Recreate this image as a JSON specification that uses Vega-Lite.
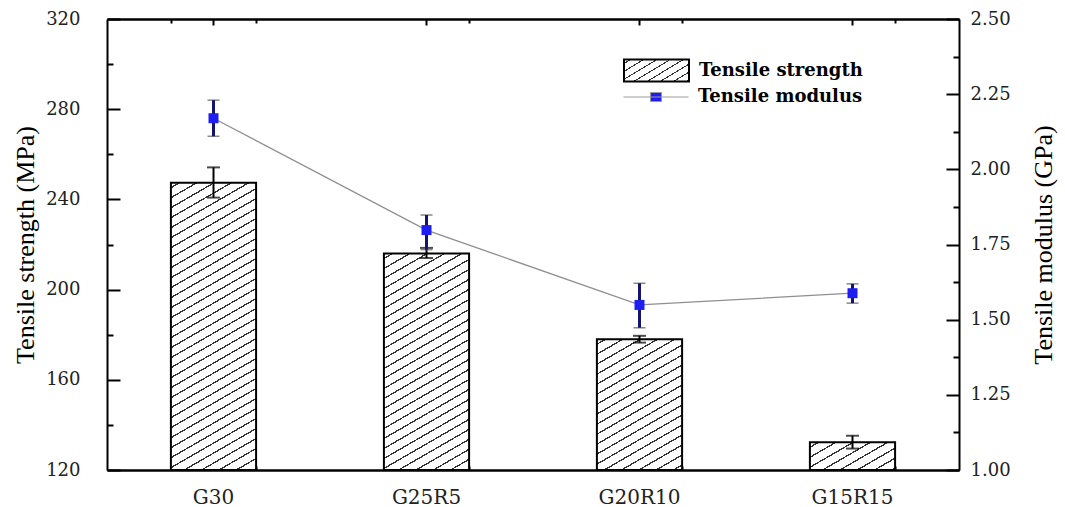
{
  "$schema": "https://vega.github.io/schema/vega-lite/v6.json",
  "width": 852,
  "height": 451,
  "autosize": "none",
  "padding": {"left": 107, "top": 19, "right": 106, "bottom": 37},
  "background": "#ffffff",
  "config": {"view": {"stroke": null}},
  "data": {"values": [
    {"sample": "G30", "ts": 247.4, "tslo": 240.8, "tshi": 254.2, "tm": 2.17, "tmlo": 2.11, "tmhi": 2.23},
    {"sample": "G25R5", "ts": 216, "tslo": 214, "tshi": 218.5, "tm": 1.798, "tmlo": 1.733, "tmhi": 1.848},
    {"sample": "G20R10", "ts": 178, "tslo": 176.5, "tshi": 179.5, "tm": 1.549, "tmlo": 1.473, "tmhi": 1.621},
    {"sample": "G15R15", "ts": 132.3, "tslo": 129.5, "tshi": 135.2, "tm": 1.588, "tmlo": 1.555, "tmhi": 1.619}
  ]},
  "resolve": {"scale": {"y": "independent"}, "axis": {"x": "independent", "y": "independent"}},
  "layer": [
    {
      "transform": [{"filter": "datum.sample === 'G30'"}],
      "mark": {"type": "bar", "stroke": "#000", "strokeWidth": 2, "fill": {"gradient": "linear", "x1": 0, "y1": 0, "x2": 0.2027, "y2": 1.1836, "stops": [
        {"offset":0.0121,"color":"#fff"},{"offset":0.0121,"color":"#333"},{"offset":0.0164,"color":"#333"},{"offset":0.0164,"color":"#fff"},
        {"offset":0.0407,"color":"#fff"},{"offset":0.0407,"color":"#333"},{"offset":0.0450,"color":"#333"},{"offset":0.0450,"color":"#fff"},
        {"offset":0.0693,"color":"#fff"},{"offset":0.0693,"color":"#333"},{"offset":0.0736,"color":"#333"},{"offset":0.0736,"color":"#fff"},
        {"offset":0.0979,"color":"#fff"},{"offset":0.0979,"color":"#333"},{"offset":0.1021,"color":"#333"},{"offset":0.1021,"color":"#fff"},
        {"offset":0.1264,"color":"#fff"},{"offset":0.1264,"color":"#333"},{"offset":0.1307,"color":"#333"},{"offset":0.1307,"color":"#fff"},
        {"offset":0.1550,"color":"#fff"},{"offset":0.1550,"color":"#333"},{"offset":0.1593,"color":"#333"},{"offset":0.1593,"color":"#fff"},
        {"offset":0.1836,"color":"#fff"},{"offset":0.1836,"color":"#333"},{"offset":0.1879,"color":"#333"},{"offset":0.1879,"color":"#fff"},
        {"offset":0.2121,"color":"#fff"},{"offset":0.2121,"color":"#333"},{"offset":0.2164,"color":"#333"},{"offset":0.2164,"color":"#fff"},
        {"offset":0.2407,"color":"#fff"},{"offset":0.2407,"color":"#333"},{"offset":0.2450,"color":"#333"},{"offset":0.2450,"color":"#fff"},
        {"offset":0.2693,"color":"#fff"},{"offset":0.2693,"color":"#333"},{"offset":0.2736,"color":"#333"},{"offset":0.2736,"color":"#fff"},
        {"offset":0.2979,"color":"#fff"},{"offset":0.2979,"color":"#333"},{"offset":0.3021,"color":"#333"},{"offset":0.3021,"color":"#fff"},
        {"offset":0.3264,"color":"#fff"},{"offset":0.3264,"color":"#333"},{"offset":0.3307,"color":"#333"},{"offset":0.3307,"color":"#fff"},
        {"offset":0.3550,"color":"#fff"},{"offset":0.3550,"color":"#333"},{"offset":0.3593,"color":"#333"},{"offset":0.3593,"color":"#fff"},
        {"offset":0.3836,"color":"#fff"},{"offset":0.3836,"color":"#333"},{"offset":0.3879,"color":"#333"},{"offset":0.3879,"color":"#fff"},
        {"offset":0.4121,"color":"#fff"},{"offset":0.4121,"color":"#333"},{"offset":0.4164,"color":"#333"},{"offset":0.4164,"color":"#fff"},
        {"offset":0.4407,"color":"#fff"},{"offset":0.4407,"color":"#333"},{"offset":0.4450,"color":"#333"},{"offset":0.4450,"color":"#fff"},
        {"offset":0.4693,"color":"#fff"},{"offset":0.4693,"color":"#333"},{"offset":0.4736,"color":"#333"},{"offset":0.4736,"color":"#fff"},
        {"offset":0.4979,"color":"#fff"},{"offset":0.4979,"color":"#333"},{"offset":0.5021,"color":"#333"},{"offset":0.5021,"color":"#fff"},
        {"offset":0.5264,"color":"#fff"},{"offset":0.5264,"color":"#333"},{"offset":0.5307,"color":"#333"},{"offset":0.5307,"color":"#fff"},
        {"offset":0.5550,"color":"#fff"},{"offset":0.5550,"color":"#333"},{"offset":0.5593,"color":"#333"},{"offset":0.5593,"color":"#fff"},
        {"offset":0.5836,"color":"#fff"},{"offset":0.5836,"color":"#333"},{"offset":0.5879,"color":"#333"},{"offset":0.5879,"color":"#fff"},
        {"offset":0.6121,"color":"#fff"},{"offset":0.6121,"color":"#333"},{"offset":0.6164,"color":"#333"},{"offset":0.6164,"color":"#fff"},
        {"offset":0.6407,"color":"#fff"},{"offset":0.6407,"color":"#333"},{"offset":0.6450,"color":"#333"},{"offset":0.6450,"color":"#fff"},
        {"offset":0.6693,"color":"#fff"},{"offset":0.6693,"color":"#333"},{"offset":0.6736,"color":"#333"},{"offset":0.6736,"color":"#fff"},
        {"offset":0.6979,"color":"#fff"},{"offset":0.6979,"color":"#333"},{"offset":0.7021,"color":"#333"},{"offset":0.7021,"color":"#fff"},
        {"offset":0.7264,"color":"#fff"},{"offset":0.7264,"color":"#333"},{"offset":0.7307,"color":"#333"},{"offset":0.7307,"color":"#fff"},
        {"offset":0.7550,"color":"#fff"},{"offset":0.7550,"color":"#333"},{"offset":0.7593,"color":"#333"},{"offset":0.7593,"color":"#fff"},
        {"offset":0.7836,"color":"#fff"},{"offset":0.7836,"color":"#333"},{"offset":0.7879,"color":"#333"},{"offset":0.7879,"color":"#fff"},
        {"offset":0.8121,"color":"#fff"},{"offset":0.8121,"color":"#333"},{"offset":0.8164,"color":"#333"},{"offset":0.8164,"color":"#fff"},
        {"offset":0.8407,"color":"#fff"},{"offset":0.8407,"color":"#333"},{"offset":0.8450,"color":"#333"},{"offset":0.8450,"color":"#fff"},
        {"offset":0.8693,"color":"#fff"},{"offset":0.8693,"color":"#333"},{"offset":0.8736,"color":"#333"},{"offset":0.8736,"color":"#fff"},
        {"offset":0.8979,"color":"#fff"},{"offset":0.8979,"color":"#333"},{"offset":0.9021,"color":"#333"},{"offset":0.9021,"color":"#fff"},
        {"offset":0.9264,"color":"#fff"},{"offset":0.9264,"color":"#333"},{"offset":0.9307,"color":"#333"},{"offset":0.9307,"color":"#fff"},
        {"offset":0.9550,"color":"#fff"},{"offset":0.9550,"color":"#333"},{"offset":0.9593,"color":"#333"},{"offset":0.9593,"color":"#fff"}
      ]}},
      "encoding": {
        "x": {"field": "sample", "type": "nominal", "sort": null, "scale": {"domain": ["G30", "G25R5", "G20R10", "G15R15"], "paddingInner": 0.6, "paddingOuter": 0.3},
          "axis": {"orient": "bottom", "title": null, "labelAngle": 0, "labelFont": "DejaVu Serif", "labelFontSize": 20, "labelColor": "#222", "labelPadding": 22, "tickBand": "center", "tickSize": -5, "tickWidth": 2, "tickColor": "#000", "domainColor": "#000", "domainWidth": 2, "grid": false}},
        "y": {"field": "ts", "type": "quantitative", "scale": {"domain": [120, 320], "nice": false, "zero": false},
          "axis": {"orient": "left", "title": "Tensile strength (MPa)", "values": [120, 140, 160, 180, 200, 220, 240, 260, 280, 300, 320],
            "labelExpr": "datum.value % 40 === 0 ? datum.label : ''",
            "tickSize": {"condition": {"test": "datum.value % 40 === 0", "value": -13}, "value": -6},
            "tickWidth": 2, "tickColor": "#000", "domainColor": "#000", "domainWidth": 2,
            "labelFont": "DejaVu Serif", "labelFontSize": 18, "labelColor": "#222", "labelPadding": 40,
            "titleFont": "Liberation Serif", "titleFontSize": 26, "titleFontWeight": "normal", "titleColor": "#000", "titlePadding": 7, "grid": false}},
        "y2": {"datum": 120}
      }
    },
    {
      "transform": [{"filter": "datum.sample === 'G25R5'"}],
      "mark": {"type": "bar", "stroke": "#000", "strokeWidth": 2, "fill": {"gradient": "linear", "x1": 0, "y1": 0, "x2": 0.3492, "y2": 1.5372, "stops": [
        {"offset":0.0121,"color":"#fff"},{"offset":0.0121,"color":"#333"},{"offset":0.0164,"color":"#333"},{"offset":0.0164,"color":"#fff"},
        {"offset":0.0407,"color":"#fff"},{"offset":0.0407,"color":"#333"},{"offset":0.0450,"color":"#333"},{"offset":0.0450,"color":"#fff"},
        {"offset":0.0693,"color":"#fff"},{"offset":0.0693,"color":"#333"},{"offset":0.0736,"color":"#333"},{"offset":0.0736,"color":"#fff"},
        {"offset":0.0979,"color":"#fff"},{"offset":0.0979,"color":"#333"},{"offset":0.1021,"color":"#333"},{"offset":0.1021,"color":"#fff"},
        {"offset":0.1264,"color":"#fff"},{"offset":0.1264,"color":"#333"},{"offset":0.1307,"color":"#333"},{"offset":0.1307,"color":"#fff"},
        {"offset":0.1550,"color":"#fff"},{"offset":0.1550,"color":"#333"},{"offset":0.1593,"color":"#333"},{"offset":0.1593,"color":"#fff"},
        {"offset":0.1836,"color":"#fff"},{"offset":0.1836,"color":"#333"},{"offset":0.1879,"color":"#333"},{"offset":0.1879,"color":"#fff"},
        {"offset":0.2121,"color":"#fff"},{"offset":0.2121,"color":"#333"},{"offset":0.2164,"color":"#333"},{"offset":0.2164,"color":"#fff"},
        {"offset":0.2407,"color":"#fff"},{"offset":0.2407,"color":"#333"},{"offset":0.2450,"color":"#333"},{"offset":0.2450,"color":"#fff"},
        {"offset":0.2693,"color":"#fff"},{"offset":0.2693,"color":"#333"},{"offset":0.2736,"color":"#333"},{"offset":0.2736,"color":"#fff"},
        {"offset":0.2979,"color":"#fff"},{"offset":0.2979,"color":"#333"},{"offset":0.3021,"color":"#333"},{"offset":0.3021,"color":"#fff"},
        {"offset":0.3264,"color":"#fff"},{"offset":0.3264,"color":"#333"},{"offset":0.3307,"color":"#333"},{"offset":0.3307,"color":"#fff"},
        {"offset":0.3550,"color":"#fff"},{"offset":0.3550,"color":"#333"},{"offset":0.3593,"color":"#333"},{"offset":0.3593,"color":"#fff"},
        {"offset":0.3836,"color":"#fff"},{"offset":0.3836,"color":"#333"},{"offset":0.3879,"color":"#333"},{"offset":0.3879,"color":"#fff"},
        {"offset":0.4121,"color":"#fff"},{"offset":0.4121,"color":"#333"},{"offset":0.4164,"color":"#333"},{"offset":0.4164,"color":"#fff"},
        {"offset":0.4407,"color":"#fff"},{"offset":0.4407,"color":"#333"},{"offset":0.4450,"color":"#333"},{"offset":0.4450,"color":"#fff"},
        {"offset":0.4693,"color":"#fff"},{"offset":0.4693,"color":"#333"},{"offset":0.4736,"color":"#333"},{"offset":0.4736,"color":"#fff"},
        {"offset":0.4979,"color":"#fff"},{"offset":0.4979,"color":"#333"},{"offset":0.5021,"color":"#333"},{"offset":0.5021,"color":"#fff"},
        {"offset":0.5264,"color":"#fff"},{"offset":0.5264,"color":"#333"},{"offset":0.5307,"color":"#333"},{"offset":0.5307,"color":"#fff"},
        {"offset":0.5550,"color":"#fff"},{"offset":0.5550,"color":"#333"},{"offset":0.5593,"color":"#333"},{"offset":0.5593,"color":"#fff"},
        {"offset":0.5836,"color":"#fff"},{"offset":0.5836,"color":"#333"},{"offset":0.5879,"color":"#333"},{"offset":0.5879,"color":"#fff"},
        {"offset":0.6121,"color":"#fff"},{"offset":0.6121,"color":"#333"},{"offset":0.6164,"color":"#333"},{"offset":0.6164,"color":"#fff"},
        {"offset":0.6407,"color":"#fff"},{"offset":0.6407,"color":"#333"},{"offset":0.6450,"color":"#333"},{"offset":0.6450,"color":"#fff"},
        {"offset":0.6693,"color":"#fff"},{"offset":0.6693,"color":"#333"},{"offset":0.6736,"color":"#333"},{"offset":0.6736,"color":"#fff"},
        {"offset":0.6979,"color":"#fff"},{"offset":0.6979,"color":"#333"},{"offset":0.7021,"color":"#333"},{"offset":0.7021,"color":"#fff"},
        {"offset":0.7264,"color":"#fff"},{"offset":0.7264,"color":"#333"},{"offset":0.7307,"color":"#333"},{"offset":0.7307,"color":"#fff"},
        {"offset":0.7550,"color":"#fff"},{"offset":0.7550,"color":"#333"},{"offset":0.7593,"color":"#333"},{"offset":0.7593,"color":"#fff"}
      ]}},
      "encoding": {
        "x": {"field": "sample", "type": "nominal", "sort": null, "scale": {"domain": ["G30", "G25R5", "G20R10", "G15R15"], "paddingInner": 0.6, "paddingOuter": 0.3},
          "axis": {"orient": "bottom", "title": null, "labels": false, "tickBand": "extent", "tickSize": -4, "tickWidth": 2, "tickColor": "#000", "domainColor": "#000", "domainWidth": 2, "grid": false}},
        "y": {"field": "ts", "type": "quantitative", "scale": {"domain": [120, 320], "nice": false, "zero": false}, "axis": null},
        "y2": {"datum": 120}
      }
    },
    {
      "transform": [{"filter": "datum.sample === 'G20R10'"}],
      "mark": {"type": "bar", "stroke": "#000", "strokeWidth": 2, "fill": {"gradient": "linear", "x1": 0, "y1": 0, "x2": 0.8813, "y2": 2.3438, "stops": [
        {"offset":0.0121,"color":"#fff"},{"offset":0.0121,"color":"#333"},{"offset":0.0164,"color":"#333"},{"offset":0.0164,"color":"#fff"},
        {"offset":0.0407,"color":"#fff"},{"offset":0.0407,"color":"#333"},{"offset":0.0450,"color":"#333"},{"offset":0.0450,"color":"#fff"},
        {"offset":0.0693,"color":"#fff"},{"offset":0.0693,"color":"#333"},{"offset":0.0736,"color":"#333"},{"offset":0.0736,"color":"#fff"},
        {"offset":0.0979,"color":"#fff"},{"offset":0.0979,"color":"#333"},{"offset":0.1021,"color":"#333"},{"offset":0.1021,"color":"#fff"},
        {"offset":0.1264,"color":"#fff"},{"offset":0.1264,"color":"#333"},{"offset":0.1307,"color":"#333"},{"offset":0.1307,"color":"#fff"},
        {"offset":0.1550,"color":"#fff"},{"offset":0.1550,"color":"#333"},{"offset":0.1593,"color":"#333"},{"offset":0.1593,"color":"#fff"},
        {"offset":0.1836,"color":"#fff"},{"offset":0.1836,"color":"#333"},{"offset":0.1879,"color":"#333"},{"offset":0.1879,"color":"#fff"},
        {"offset":0.2121,"color":"#fff"},{"offset":0.2121,"color":"#333"},{"offset":0.2164,"color":"#333"},{"offset":0.2164,"color":"#fff"},
        {"offset":0.2407,"color":"#fff"},{"offset":0.2407,"color":"#333"},{"offset":0.2450,"color":"#333"},{"offset":0.2450,"color":"#fff"},
        {"offset":0.2693,"color":"#fff"},{"offset":0.2693,"color":"#333"},{"offset":0.2736,"color":"#333"},{"offset":0.2736,"color":"#fff"},
        {"offset":0.2979,"color":"#fff"},{"offset":0.2979,"color":"#333"},{"offset":0.3021,"color":"#333"},{"offset":0.3021,"color":"#fff"},
        {"offset":0.3264,"color":"#fff"},{"offset":0.3264,"color":"#333"},{"offset":0.3307,"color":"#333"},{"offset":0.3307,"color":"#fff"},
        {"offset":0.3550,"color":"#fff"},{"offset":0.3550,"color":"#333"},{"offset":0.3593,"color":"#333"},{"offset":0.3593,"color":"#fff"},
        {"offset":0.3836,"color":"#fff"},{"offset":0.3836,"color":"#333"},{"offset":0.3879,"color":"#333"},{"offset":0.3879,"color":"#fff"},
        {"offset":0.4121,"color":"#fff"},{"offset":0.4121,"color":"#333"},{"offset":0.4164,"color":"#333"},{"offset":0.4164,"color":"#fff"},
        {"offset":0.4407,"color":"#fff"},{"offset":0.4407,"color":"#333"},{"offset":0.4450,"color":"#333"},{"offset":0.4450,"color":"#fff"},
        {"offset":0.4693,"color":"#fff"},{"offset":0.4693,"color":"#333"},{"offset":0.4736,"color":"#333"},{"offset":0.4736,"color":"#fff"},
        {"offset":0.4979,"color":"#fff"},{"offset":0.4979,"color":"#333"},{"offset":0.5021,"color":"#333"},{"offset":0.5021,"color":"#fff"}
      ]}},
      "encoding": {
        "x": {"field": "sample", "type": "nominal", "sort": null, "scale": {"domain": ["G30", "G25R5", "G20R10", "G15R15"], "paddingInner": 0.6, "paddingOuter": 0.3},
          "axis": {"orient": "top", "title": null, "labels": false, "tickBand": "center", "tickSize": -6, "tickWidth": 2, "tickColor": "#000", "domainColor": "#000", "domainWidth": 2, "grid": false}},
        "y": {"field": "ts", "type": "quantitative", "scale": {"domain": [120, 320], "nice": false, "zero": false}, "axis": null},
        "y2": {"datum": 120}
      }
    },
    {
      "transform": [{"filter": "datum.sample === 'G15R15'"}],
      "mark": {"type": "bar", "strokeWidth": 2, "fill": {"gradient": "linear", "x1": 0, "y1": 0, "x2": 5.401, "y2": 3.043, "stops": [
        {"offset":0.0121,"color":"#fff"},{"offset":0.0121,"color":"#333"},{"offset":0.0164,"color":"#333"},{"offset":0.0164,"color":"#fff"},
        {"offset":0.0407,"color":"#fff"},{"offset":0.0407,"color":"#333"},{"offset":0.0450,"color":"#333"},{"offset":0.0450,"color":"#fff"},
        {"offset":0.0693,"color":"#fff"},{"offset":0.0693,"color":"#333"},{"offset":0.0736,"color":"#333"},{"offset":0.0736,"color":"#fff"},
        {"offset":0.0979,"color":"#fff"},{"offset":0.0979,"color":"#333"},{"offset":0.1021,"color":"#333"},{"offset":0.1021,"color":"#fff"},
        {"offset":0.1264,"color":"#fff"},{"offset":0.1264,"color":"#333"},{"offset":0.1307,"color":"#333"},{"offset":0.1307,"color":"#fff"},
        {"offset":0.1550,"color":"#fff"},{"offset":0.1550,"color":"#333"},{"offset":0.1593,"color":"#333"},{"offset":0.1593,"color":"#fff"},
        {"offset":0.1836,"color":"#fff"},{"offset":0.1836,"color":"#333"},{"offset":0.1879,"color":"#333"},{"offset":0.1879,"color":"#fff"},
        {"offset":0.2121,"color":"#fff"},{"offset":0.2121,"color":"#333"},{"offset":0.2164,"color":"#333"},{"offset":0.2164,"color":"#fff"}
      ]}},
      "encoding": {
        "x": {"field": "sample", "type": "nominal", "sort": null, "scale": {"domain": ["G30", "G25R5", "G20R10", "G15R15"], "paddingInner": 0.6, "paddingOuter": 0.3},
          "axis": {"orient": "top", "title": null, "labels": false, "tickBand": "extent", "tickSize": -4, "tickWidth": 2, "tickColor": "#000", "domainColor": "#000", "domainWidth": 2, "grid": false}},
        "y": {"field": "ts", "type": "quantitative", "scale": {"domain": [120, 320], "nice": false, "zero": false}, "axis": null},
        "y2": {"datum": 120},
        "stroke": {"datum": "Tensile strength", "type": "nominal",
          "scale": {"domain": ["Tensile strength"], "range": ["#000000"]},
          "legend": {"title": null, "orient": "none", "legendX": 516, "legendY": 18, "padding": 0,
            "symbolType": "M-1,-0.34H1V0.34H-1Z", "symbolSize": 4225, "symbolStrokeWidth": 2,
            "labelOffset": 9, "labelLimit": 400, "labelFont": "DejaVu Serif", "labelFontSize": 18, "labelFontWeight": "bold", "labelColor": "#000"}}
      }
    },
    {
      "mark": {"type": "errorbar", "color": "#000", "rule": {"strokeWidth": 2}, "ticks": {"thickness": 2, "size": 13, "color": "#000"}},
      "encoding": {
        "x": {"field": "sample", "type": "nominal", "sort": null, "scale": {"domain": ["G30", "G25R5", "G20R10", "G15R15"], "paddingInner": 0.6, "paddingOuter": 0.3}, "axis": null},
        "y": {"field": "tslo", "type": "quantitative", "scale": {"domain": [120, 320], "nice": false, "zero": false}, "axis": null},
        "y2": {"field": "tshi"}
      }
    },
    {
      "mark": {"type": "line", "color": "#8f8f8f", "strokeWidth": 1.3},
      "encoding": {
        "x": {"field": "sample", "type": "nominal", "sort": null, "scale": {"domain": ["G30", "G25R5", "G20R10", "G15R15"], "paddingInner": 0.6, "paddingOuter": 0.3}, "axis": null},
        "y": {"field": "tm", "type": "quantitative", "scale": {"domain": [1, 2.5], "nice": false, "zero": false},
          "axis": {"orient": "right", "title": "Tensile modulus (GPa)", "values": [1, 1.125, 1.25, 1.375, 1.5, 1.625, 1.75, 1.875, 2, 2.125, 2.25, 2.375, 2.5],
            "labelExpr": "abs(datum.value*4 - round(datum.value*4)) < 0.001 ? format(datum.value, '.2f') : ''",
            "tickSize": {"condition": {"test": "abs(datum.value*4 - round(datum.value*4)) < 0.001", "value": -13}, "value": -6},
            "tickWidth": 2, "tickColor": "#000", "domainColor": "#000", "domainWidth": 2,
            "labelFont": "DejaVu Serif", "labelFontSize": 18, "labelColor": "#222", "labelPadding": 24,
            "titleFont": "Liberation Serif", "titleFontSize": 26, "titleFontWeight": "normal", "titleColor": "#000", "titleAngle": -90, "titleBaseline": "top", "titlePadding": 20, "grid": false}}
      }
    },
    {
      "mark": {"type": "errorbar", "color": "#14146e", "rule": {"strokeWidth": 3}, "ticks": {"thickness": 1.5, "size": 12, "color": "#555"}},
      "encoding": {
        "x": {"field": "sample", "type": "nominal", "sort": null, "scale": {"domain": ["G30", "G25R5", "G20R10", "G15R15"], "paddingInner": 0.6, "paddingOuter": 0.3}, "axis": null},
        "y": {"field": "tmlo", "type": "quantitative", "scale": {"domain": [1, 2.5], "nice": false, "zero": false}, "axis": null},
        "y2": {"field": "tmhi"}
      }
    },
    {
      "mark": {"type": "square", "size": 100, "filled": true, "opacity": 1},
      "encoding": {
        "x": {"field": "sample", "type": "nominal", "sort": null, "scale": {"domain": ["G30", "G25R5", "G20R10", "G15R15"], "paddingInner": 0.6, "paddingOuter": 0.3}, "axis": null},
        "y": {"field": "tm", "type": "quantitative", "scale": {"domain": [1, 2.5], "nice": false, "zero": false}, "axis": null},
        "color": {"datum": "Tensile modulus", "type": "nominal",
          "scale": {"domain": ["Tensile modulus"], "range": ["#1e1ef2"]},
          "legend": {"title": null, "orient": "none", "legendX": 516, "legendY": 45, "padding": 0,
            "symbolType": "M-1,0H1M-0.17,-0.14H0.17V0.14H-0.17Z", "symbolSize": 4225, "symbolStrokeWidth": 1, "symbolStrokeColor": "#9a9a9a",
            "labelOffset": 9, "labelLimit": 400, "labelFont": "DejaVu Serif", "labelFontSize": 18, "labelFontWeight": "bold", "labelColor": "#000"}
        }
      }
    }
  ]
}
